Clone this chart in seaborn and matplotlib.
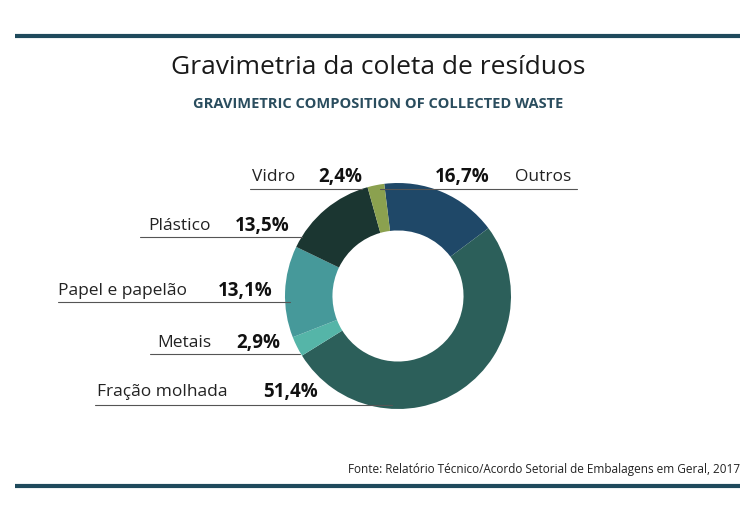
import matplotlib.pyplot as plt
import seaborn as sns
from matplotlib.lines import Line2D

categories = ['Outros', 'Fração molhada', 'Metais', 'Papel e papelão', 'Plástico', 'Vidro']
values = [16.7, 51.4, 2.9, 13.1, 13.5, 2.4]
value_labels = ['16,7%', '51,4%', '2,9%', '13,1%', '13,5%', '2,4%']
colors = ['#1f4868', '#2c5f5a', '#55b5a8', '#46999a', '#1b3631', '#8ba14f']

sns.set_theme(style='white')
plt.rcParams['font.family'] = ['Open Sans', 'DejaVu Sans']

W, H = 746, 510
fig = plt.figure(figsize=(W / 100, H / 100), dpi=100)
fig.patch.set_facecolor('white')

def fx(x):
    return x / W

def fy(y):
    return 1 - y / H

# donut
ax = fig.add_axes([fx(285), fy(410), 226 / W, 226 / H])
ax.pie(values, colors=colors, startangle=97, counterclock=False,
       wedgeprops=dict(width=0.42, edgecolor='none'))
ax.set_xlim(-1, 1)
ax.set_ylim(-1, 1)
ax.axis('off')

# frame lines
for y in (37, 487):
    fig.add_artist(Line2D([fx(15), fx(740)], [fy(y), fy(y)], color='#1f4a5c', lw=3,
                          solid_capstyle='butt'))

fig.text(fx(378), fy(68), 'Gravimetria da coleta de resíduos', ha='center', va='center',
         fontsize=19, color='#1a1a1a')
fig.text(fx(378), fy(104), 'GRAVIMETRIC COMPOSITION OF COLLECTED WASTE', ha='center',
         va='center', fontsize=10.5, fontweight='bold', color='#2a4d5e')

# labels: (name x, pct anchor x, pct ha, text y, line x0, line x1, line y)
layout = {
    'Vidro': (252, 362, 'right', 177, 250, 362, 190),
    'Outros': (515, 435, 'left', 177, 380, 577, 190),
    'Plástico': (148, 290, 'right', 226, 140, 302, 238),
    'Papel e papelão': (58, 273, 'right', 291, 58, 290, 303),
    'Metais': (157, 280, 'right', 343, 150, 300, 355),
    'Fração molhada': (97, 318, 'right', 392, 95, 392, 406),
}
for name, pct in zip(categories, value_labels):
    nx, px, pha, ty, x0, x1, ly = layout[name]
    fig.text(fx(nx), fy(ty), name, ha='left', va='center', fontsize=12.5, color='#222222')
    fig.text(fx(px), fy(ty), pct, ha=pha, va='center', fontsize=13.5,
             fontweight='bold', color='#111111')
    fig.add_artist(Line2D([fx(x0), fx(x1)], [fy(ly), fy(ly)], color='#555555', lw=0.8))

fig.text(fx(740), fy(470), 'Fonte: Relatório Técnico/Acordo Setorial de Embalagens em Geral, 2017',
         ha='right', va='center', fontsize=8.5, color='#222222')

fig.savefig('out.png', dpi=100)
